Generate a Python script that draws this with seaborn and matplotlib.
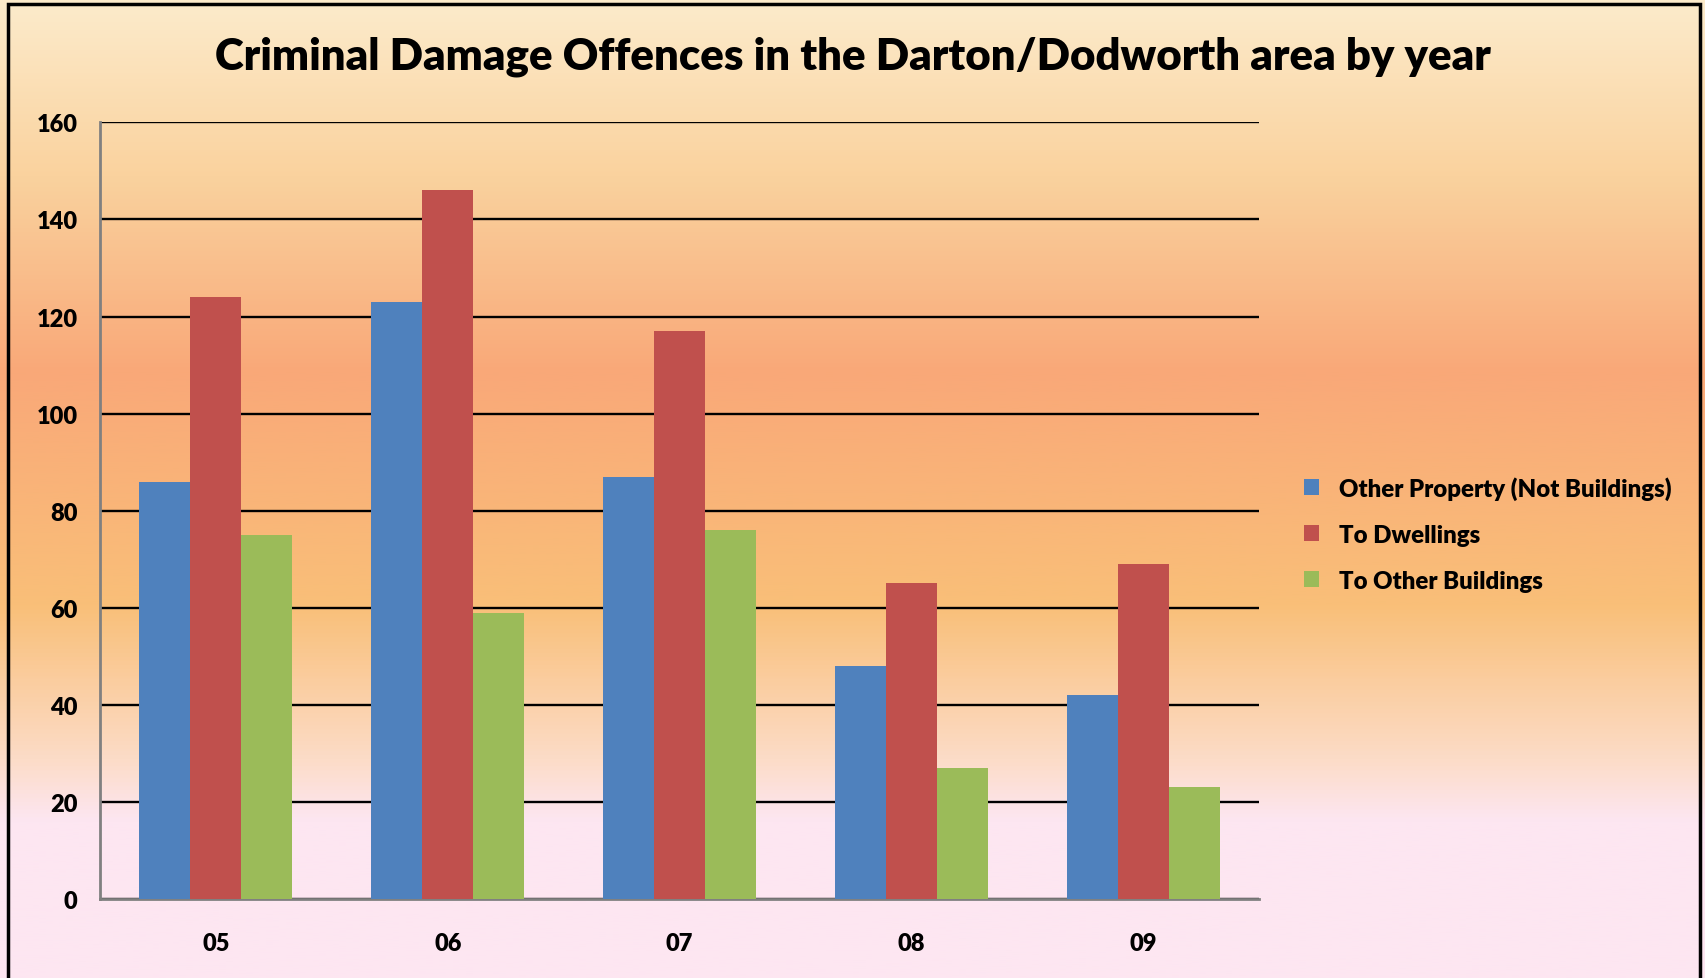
import numpy as np
import pandas as pd
import matplotlib
matplotlib.use("Agg")
import matplotlib.pyplot as plt
import seaborn as sns
from matplotlib.colors import LinearSegmentedColormap
from matplotlib.patches import Rectangle

# Chart data
years = ['05', '06', '07', '08', '09']
other_property = [86, 123, 87, 48, 42]
to_dwellings = [124, 146, 117, 65, 69]
to_other_buildings = [75, 59, 76, 27, 23]
series_names = ['Other Property (Not Buildings)', 'To Dwellings', 'To Other Buildings']
colors = ['#4F81BD', '#C0504D', '#9BBB59']

df = pd.DataFrame({
    'year': years * 3,
    'series': [series_names[0]] * 5 + [series_names[1]] * 5 + [series_names[2]] * 5,
    'count': other_property + to_dwellings + to_other_buildings,
})

sns.set_style('white')
plt.rcParams['font.family'] = ['Lato', 'DejaVu Sans']
plt.rcParams['font.weight'] = 'bold'
plt.rcParams['text.color'] = 'black'
plt.rcParams['xtick.color'] = 'black'
plt.rcParams['ytick.color'] = 'black'

fig = plt.figure(figsize=(17.06, 9.79), dpi=100)

# gradient background
bg = fig.add_axes([0, 0, 1, 1], zorder=-10)
grad = LinearSegmentedColormap.from_list('bg', [
    (0.0, '#FCEBCB'),
    (0.18, '#FAD29E'),
    (0.38, '#F9A878'),
    (0.62, '#F9BF78'),
    (0.78, '#FCDCC8'),
    (0.84, '#FDE6F1'),
    (1.0, '#FDE6F1'),
])
bg.imshow(np.linspace(0, 1, 500).reshape(-1, 1), aspect='auto', cmap=grad,
          extent=[0, 1, 0, 1], origin='upper')
bg.set_xlim(0, 1)
bg.set_ylim(0, 1)
bg.axis('off')
bg.add_patch(Rectangle((0.0047, -0.01), 0.9918, 1.005, fill=False,
                       edgecolor='black', linewidth=2.5, transform=bg.transAxes))

ax = fig.add_axes([0.0586, 0.0807, 0.6794, 0.7933])
ax.set_facecolor('none')
sns.barplot(data=df, x='year', y='count', hue='series', palette=colors,
            width=0.66, gap=0, ax=ax, saturation=1, zorder=3, linewidth=0)

ax.set_ylim(0, 160)
ax.set_xlim(-0.5, 4.5)
ax.set_yticks(range(0, 161, 20))
ax.yaxis.grid(True, color='black', linewidth=1.7)
ax.set_axisbelow(True)
ax.set_xlabel('')
ax.set_ylabel('')
for s in ['top', 'right']:
    ax.spines[s].set_visible(False)
for s in ['left', 'bottom']:
    ax.spines[s].set_color('#808080')
    ax.spines[s].set_linewidth(2)
ax.tick_params(axis='both', length=0, labelsize=17)
ax.tick_params(axis='y', pad=16)
ax.tick_params(axis='x', pad=24)
for lab in ax.get_xticklabels() + ax.get_yticklabels():
    lab.set_fontweight('heavy')

ax.legend(loc='center left', bbox_to_anchor=(1.02, 0.47), frameon=False,
          prop={'size': 17.3, 'weight': 'heavy'}, handlelength=0.65, handleheight=0.65,
          labelspacing=1.0, handletextpad=0.8)

fig.text(0.5, 0.942, 'Criminal Damage Offences in the Darton/Dodworth area by year',
         ha='center', va='center', fontsize=31.5, fontweight='heavy')

fig.savefig('out.png', dpi=100)
